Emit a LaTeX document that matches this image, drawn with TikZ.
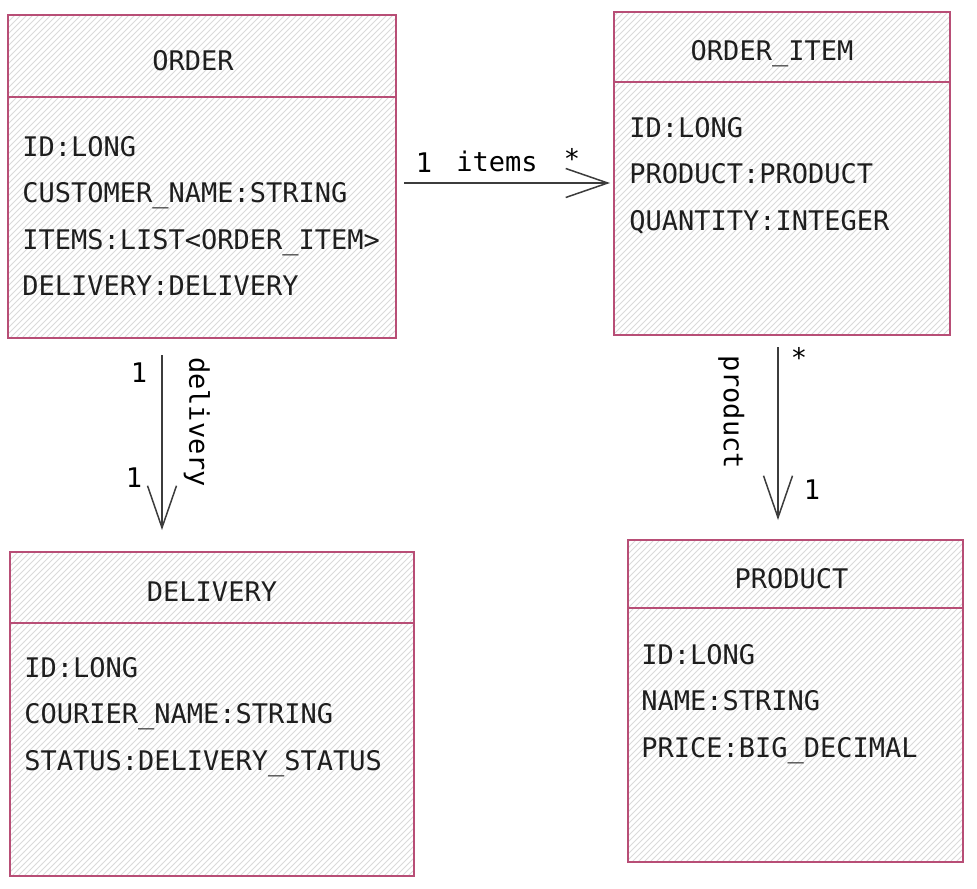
\documentclass[tikz,border=0pt]{standalone}
\usepackage{fontspec}
\setmonofont{DejaVu Sans Mono}
\usetikzlibrary{positioning,patterns,arrows.meta}
\definecolor{umlborder}{RGB}{184,78,118}
\definecolor{hatchgray}{RGB}{218,218,218}
\definecolor{umltext}{RGB}{30,30,30}
\definecolor{linkgray}{RGB}{60,60,60}

\begin{document}
\begin{tikzpicture}[
    x=0.5pt, y=-0.5pt,
    font=\ttfamily\fontsize{13.5}{23.2}\selectfont,
    classbox/.style={rectangle, draw=umlborder, line width=1pt,
                     pattern=north east lines, pattern color=hatchgray,
                     inner sep=0pt, outer sep=0pt, text=umltext},
    classhead/.style={classbox, text height=14pt, text depth=0pt},
    attrs/.style={align=left, inner sep=0pt, anchor=north west, text=umltext},
    mult/.style={inner sep=0pt, text=black},
    arrow/.style={-{Straight Barb[length=21pt, width=14.5pt]}, draw=linkgray,
                  line width=0.75pt}
]
\useasboundingbox (0,0) rectangle (977,888);

% Nodes
\node[classhead, minimum width=194pt, minimum height=41pt, anchor=north west] (orderhead) at (8,15) {ORDER\kern9pt};
\node[classbox, minimum width=194pt, minimum height=120.5pt, below=0pt of orderhead] (orderbody) {};
\node[attrs, below right=19.5pt and 7pt of orderbody.north west] (orderattrs)
    {ID:LONG\\CUSTOMER\_NAME:STRING\\ITEMS:LIST<ORDER\_ITEM>\\DELIVERY:DELIVERY};

\node[classhead, minimum width=168pt, minimum height=35pt, anchor=north west] (itemhead) at (614,12) {ORDER\_ITEM\kern10pt};
\node[classbox, minimum width=168pt, minimum height=126.5pt, below=0pt of itemhead] (itembody) {};
\node[attrs, below right=17.5pt and 7.5pt of itembody.north west] (itemattrs)
    {ID:LONG\\PRODUCT:PRODUCT\\QUANTITY:INTEGER};

\node[classhead, minimum width=202pt, minimum height=35.5pt, anchor=north west] (deliveryhead) at (10,552) {DELIVERY};
\node[classbox, minimum width=202pt, minimum height=126.5pt, below=0pt of deliveryhead] (deliverybody) {};
\node[attrs, below right=17pt and 7pt of deliverybody.north west] (deliveryattrs)
    {ID:LONG\\COURIER\_NAME:STRING\\STATUS:DELIVERY\_STATUS};

\node[classhead, minimum width=167.5pt, minimum height=34pt, anchor=north west] (producthead) at (628,540) {PRODUCT\kern4pt};
\node[classbox, minimum width=167.5pt, minimum height=127pt, below=0pt of producthead] (productbody) {};
\node[attrs, below right=18pt and 6.5pt of productbody.north west] (productattrs)
    {ID:LONG\\NAME:STRING\\PRICE:BIG\_DECIMAL};

% Arrows
\draw[arrow, shorten <=4pt, shorten >=2pt] ([yshift=17.25pt]orderbody.east) -- ([yshift=17.25pt]orderbody.east -| itembody.west)
    node[mult, pos=.128, anchor=south, yshift=5pt] (itemsfrom) {1}
    node[mult, pos=.463, anchor=south, yshift=5pt] (itemsname) {items}
    node[mult, pos=.807, anchor=south, yshift=7pt] (itemsto) {*};
\draw[arrow, shorten <=8.5pt, shorten >=11pt] ([xshift=-20pt]orderbody.south) -- ([xshift=-20pt]orderbody.south |- deliveryhead.north)
    node[mult, pos=.164, anchor=east, xshift=-7pt] (deliveryfrom) {1}
    node[mult, pos=.654, anchor=east, xshift=-9.5pt] (deliveryto) {1}
    node[mult, pos=.393, anchor=south, xshift=10.5pt, rotate=-90] (deliveryname) {delivery};
\draw[arrow, shorten <=6pt, shorten >=10pt] ([xshift=-2pt]itembody.south) -- ([xshift=-2pt]itembody.south |- producthead.north)
    node[mult, pos=.11, anchor=west, xshift=6pt] (productfrom) {*}
    node[mult, pos=.756, anchor=west, xshift=12.5pt] (productto) {1}
    node[mult, pos=.376, anchor=north, xshift=-16.5pt, rotate=-90] (productname) {product};
\end{tikzpicture}
\end{document}
